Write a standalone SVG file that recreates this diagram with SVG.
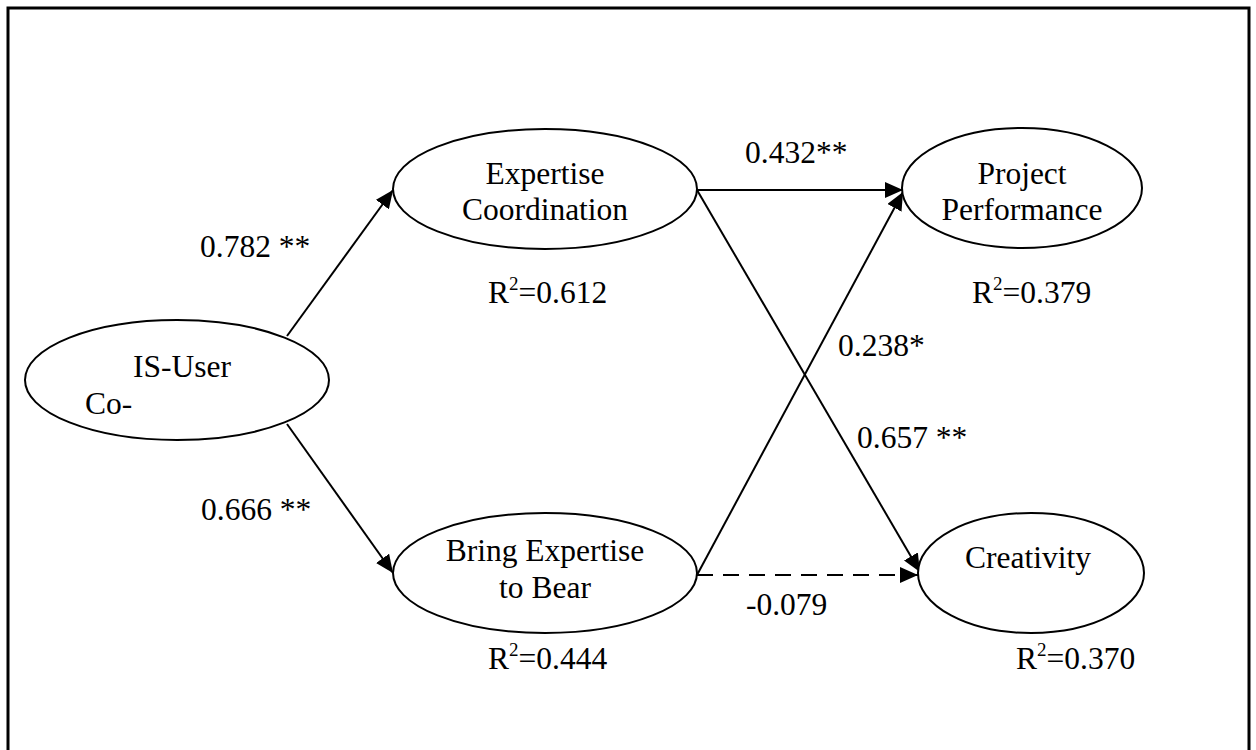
<svg xmlns="http://www.w3.org/2000/svg" width="1256" height="750" viewBox="0 0 1256 750">
  <style>
    .node { fill: #ffffff; stroke: #000000; stroke-width: 2; }
    .t { font-family: "Liberation Serif", "Times New Roman", serif; font-size: 31.5px; fill: #000000; }
    .c { text-anchor: middle; }
    .edge { stroke: #000000; stroke-width: 2; fill: none; }
    .dash { stroke-dasharray: 16 10; }
    .sup { font-size: 19px; }
  </style>
  <defs>
    <marker id="arrow" markerUnits="userSpaceOnUse" markerWidth="20" markerHeight="16" refX="18" refY="8" orient="auto">
      <path d="M0,0 L18,8 L0,16 Z" fill="#000000"/>
    </marker>
  </defs>
  <rect width="1256" height="750" fill="#ffffff"/>
  <path d="M8,752 L8,8 L1249,8 L1249,752" fill="none" stroke="#000000" stroke-width="3"/>

  <g id="connectors">
    <line class="edge" x1="287" y1="336" x2="393" y2="190" marker-end="url(#arrow)"/>
    <line class="edge" x1="287" y1="424" x2="393" y2="573" marker-end="url(#arrow)"/>
    <line class="edge" x1="697" y1="190" x2="903" y2="190" marker-end="url(#arrow)"/>
    <line class="edge" x1="697" y1="190" x2="920" y2="572" marker-end="url(#arrow)"/>
    <line class="edge" x1="697" y1="575" x2="903" y2="192" marker-end="url(#arrow)"/>
    <line class="edge dash" x1="697" y1="575" x2="918" y2="575" marker-end="url(#arrow)"/>
    <text class="t" x="200" y="257">0.782 **</text>
    <text class="t" x="201" y="520">0.666 **</text>
    <text class="t" x="745" y="163">0.432**</text>
    <text class="t" x="838" y="356">0.238*</text>
    <text class="t" x="857" y="448">0.657 **</text>
    <text class="t" x="746" y="615">-0.079</text>
  </g>

  <g id="is-user">
    <ellipse class="node" cx="177" cy="380" rx="152" ry="60"/>
    <text class="t c" x="182" y="377">IS-User</text>
    <text class="t" x="85" y="414">Co-</text>
  </g>

  <g id="expertise-coordination">
    <ellipse class="node" cx="545" cy="189" rx="152" ry="60"/>
    <text class="t c" x="545" y="184">Expertise</text>
    <text class="t c" x="545" y="220">Coordination</text>
    <text class="t" x="488" y="303">R<tspan class="sup" dy="-13">2</tspan><tspan dy="13">=0.612</tspan></text>
  </g>

  <g id="project-performance">
    <ellipse class="node" cx="1022" cy="188" rx="120" ry="60"/>
    <text class="t c" x="1022" y="184">Project</text>
    <text class="t c" x="1022" y="220">Performance</text>
    <text class="t" x="972" y="303">R<tspan class="sup" dy="-13">2</tspan><tspan dy="13">=0.379</tspan></text>
  </g>

  <g id="bring-expertise">
    <ellipse class="node" cx="545" cy="573" rx="152" ry="60"/>
    <text class="t c" x="545" y="561">Bring Expertise</text>
    <text class="t c" x="545" y="598">to Bear</text>
    <text class="t" x="488" y="669">R<tspan class="sup" dy="-13">2</tspan><tspan dy="13">=0.444</tspan></text>
  </g>

  <g id="creativity">
    <ellipse class="node" cx="1031" cy="573" rx="113" ry="60"/>
    <text class="t c" x="1028" y="568">Creativity</text>
    <text class="t" x="1016" y="669">R<tspan class="sup" dy="-13">2</tspan><tspan dy="13">=0.370</tspan></text>
  </g>
</svg>
